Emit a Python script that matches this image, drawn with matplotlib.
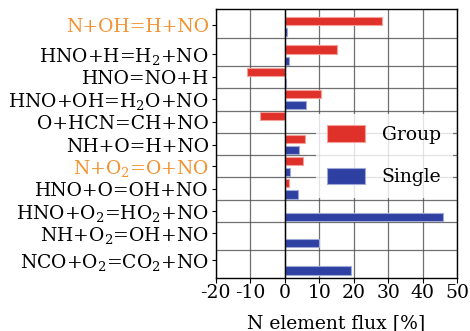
import numpy as np
import matplotlib
matplotlib.use('Agg')
import matplotlib.pyplot as plt

# ------------------------------------------------------------
# Data: N element flux per reaction [%]
# ------------------------------------------------------------
reactions = [r'N+OH=H+NO', r'HNO+H=H$_2$+NO', r'HNO=NO+H',
             r'HNO+OH=H$_2$O+NO', r'O+HCN=CH+NO', r'NH+O=H+NO',
             r'N+O$_2$=O+NO', r'HNO+O=OH+NO', r'HNO+O$_2$=HO$_2$+NO',
             r'NH+O$_2$=OH+NO', r'NCO+O$_2$=CO$_2$+NO']
highlight = [True, False, False, False, False, False,
             True, False, False, False, False]
group_flux = [28.3, 15.0, -10.9, 10.6, -7.1, 5.9, 5.4, 1.25, 0.0, 0.0, 0.0]
single_flux = [0.6, 1.25, 0.5, 6.2, 0.0, 4.2, 1.5, 3.9, 46.0, 9.9, 19.2]
xticks = [-20, -10, 0, 10, 20, 30, 40, 50]

# ------------------------------------------------------------
# Layout (rows are not evenly spaced in the original)
# ------------------------------------------------------------
row_y = np.array([26.5, 55.2, 77.3, 99.6, 121.8, 144.5, 166.6, 188.8,
                  211.6, 237.2, 265.0])
tick_y = [25, 54, 77, 99, 122, 145, 166, 189, 211, 233, 260]
sep_y = [38.3, 66.3, 88.3, 110.7, 132.7, 155, 177.3, 200, 222, 250]
off = 5.6
bar_h = 8.3

RED = '#e0302a'
BLUE = '#2e40a2'
ORANGE = '#f39230'

plt.rcParams.update({
    'font.family': 'DejaVu Serif',
    'mathtext.fontset': 'dejavuserif',
    'font.size': 13.5,
    'axes.unicode_minus': False,
})

fig = plt.figure(figsize=(4.7, 3.31), dpi=100)
ax = fig.add_axes([215.7 / 470, 1 - 277.7 / 331,
                   (457.3 - 215.7) / 470, (277.7 - 9.3) / 331])

ax.barh(row_y - off, group_flux, height=bar_h, color=RED,
        edgecolor='#f4a09a', linewidth=0.8, label='Group', zorder=3)
ax.barh(row_y + off, single_flux, height=bar_h, color=BLUE,
        edgecolor='#a0a8d8', linewidth=0.8, label='Single', zorder=3)

ax.axvline(0, color='black', lw=1.0, zorder=4)

ax.set_xlim(-20, 50)
ax.set_ylim(277.7, 9.3)
ax.set_xticks(xticks)
ax.set_yticks(tick_y)
ax.set_yticklabels(reactions)
for lab, hl in zip(ax.get_yticklabels(), highlight):
    if hl:
        lab.set_color(ORANGE)
ax.set_yticks(sep_y, minor=True)

ax.grid(True, axis='x', which='major', color='0.3', lw=0.9, alpha=0.8, zorder=1)
ax.grid(True, axis='y', which='minor', color='0.3', lw=0.9, alpha=0.8, zorder=1)
ax.tick_params(axis='y', which='major', length=3, pad=2)
ax.tick_params(axis='y', which='minor', length=0)
ax.tick_params(axis='x', which='major', length=3.5, pad=1)

for sp in ax.spines.values():
    sp.set_linewidth(1.0)

ax.set_xlabel('N element flux [%]', labelpad=9)

leg = ax.legend(loc='upper left',
                bbox_to_anchor=((316 - 215.7) / 241.6, (277.7 - 114) / 268.4),
                borderaxespad=0, borderpad=0.6, handlelength=2.0,
                handleheight=1.0, handletextpad=0.9, labelspacing=1.25,
                frameon=True, fancybox=False, framealpha=0.8,
                edgecolor='none', facecolor='white')
leg.set_zorder(5)

fig.savefig('out.png', dpi=100)
